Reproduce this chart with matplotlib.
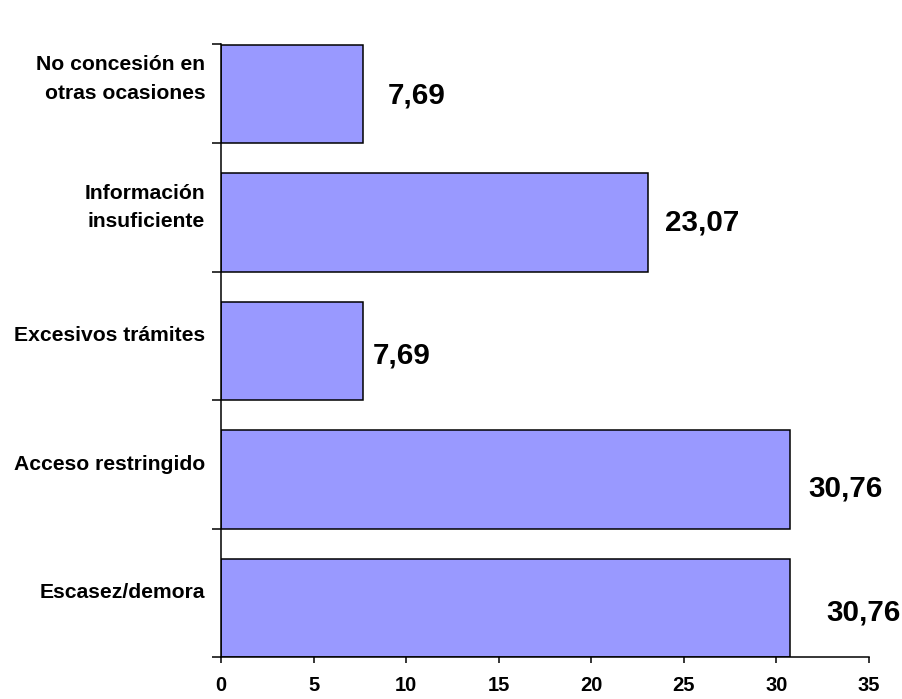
import matplotlib
matplotlib.use('Agg')
import matplotlib.pyplot as plt

# datos (de abajo hacia arriba)
categorias = ['Escasez/demora', 'Acceso restringido', 'Excesivos trámites',
              'Información\ninsuficiente', 'No concesión en\notras ocasiones']
valores = [30.76, 30.76, 7.69, 23.07, 7.69]
etiquetas = ['30,76', '30,76', '7,69', '23,07', '7,69']
xticks = [0, 5, 10, 15, 20, 25, 30, 35]

# desplazamiento de las etiquetas de valor (x en unidades, y en bandas)
desp_x = [1.92, 0.95, 0.52, 0.91, 1.33]
desp_y = [-0.15, -0.185, -0.15, -0.115, -0.127]

plt.rcParams['font.family'] = ['Liberation Sans', 'DejaVu Sans']

fig = plt.figure(figsize=(9.03, 6.99), dpi=100)
ax = fig.add_axes([0.2447, 0.0601, 0.7176, 0.8769])

alto = 0.766
pos = list(range(len(valores)))
ax.barh([p - 0.5 for p in pos], valores, height=alto, align='edge',
        color='#9999FF', edgecolor='black', linewidth=1.1)

for p, v, txt, dx, dy in zip(pos, valores, etiquetas, desp_x, desp_y):
    ax.text(v + dx, p + dy, txt, ha='left', va='center',
            fontsize=21.3, fontweight='bold')

top = len(valores) - 1.5 + 0.773
ax.set_xlim(0, 35)
ax.set_ylim(-0.5, top)

ax.set_xticks(xticks)
ax.set_xticklabels([str(t) for t in xticks], fontsize=14.5, fontweight='bold',
                   family=['Liberation Sans Narrow', 'Liberation Sans'])
ax.set_yticks([p - 0.5 for p in pos] + [top])
ax.set_yticklabels([])
for p, c in zip(pos, categorias):
    ax.text(-0.85, p, c, ha='right', va='center', fontsize=15.2,
            fontweight='bold', linespacing=1.62, transform=ax.transData)

ax.tick_params(axis='x', direction='out', length=4.5, width=1.1, pad=9)
ax.tick_params(axis='y', direction='out', length=6.5, width=1.1)
for s in ['top', 'right']:
    ax.spines[s].set_visible(False)
for s in ['left', 'bottom']:
    ax.spines[s].set_linewidth(1.1)

fig.savefig('out.png', dpi=100)
